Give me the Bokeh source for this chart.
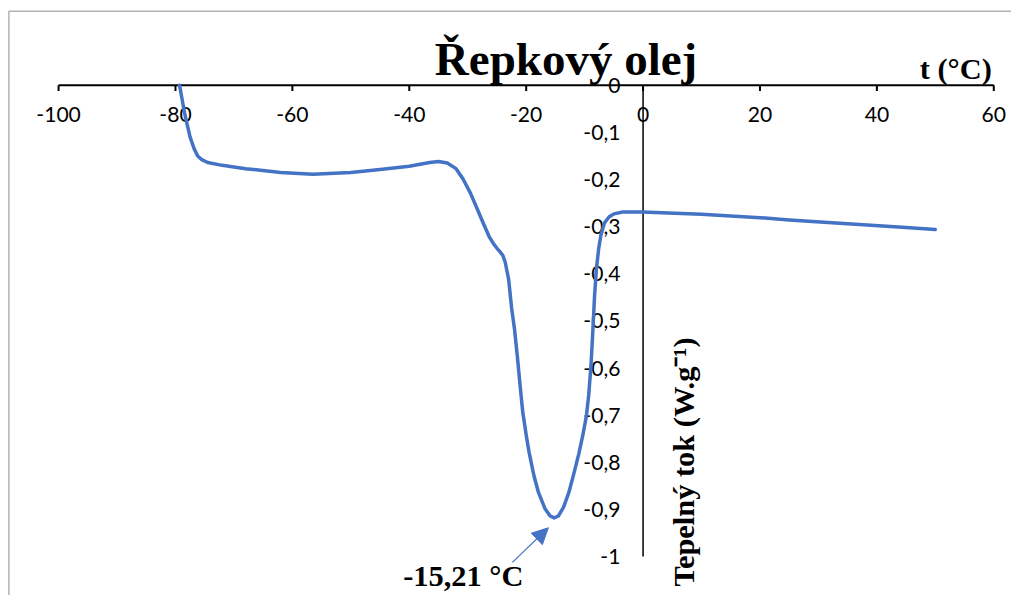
import math
from bokeh.plotting import figure
from bokeh.models import Range1d, Label, Arrow, NormalHead, BoxAnnotation, ColumnDataSource
from bokeh.core.properties import value
from bokeh.embed import file_html
from bokeh.resources import INLINE

# ---------------- data ----------------
temp_c = [-79.3, -78.4, -77.5, -76.8, -76.2, -75.5, -74.5, -72.0, -68.0, -62.0,
          -56.5, -50.0, -45.0, -40.0, -36.5, -35.0, -33.5, -32.0, -30.8, -29.5,
          -28.5, -27.3, -26.3, -25.6, -25.0, -24.5, -24.0, -23.6, -23.0, -22.5,
          -22.0, -21.5, -21.0, -20.6, -20.0, -19.5, -18.7, -17.9, -16.8, -15.9,
          -15.21, -14.5, -13.6, -12.7, -11.8, -11.0, -10.3, -9.7, -9.3, -8.9,
          -8.6, -8.3, -8.0, -7.6, -7.2, -6.6, -5.8, -5.0, -3.5, -0.2,
          10.0, 20.0, 25.0, 35.0, 45.0, 50.0]
heat_flow = [0.0, -0.062, -0.110, -0.135, -0.150, -0.158, -0.164, -0.170, -0.177, -0.185,
             -0.189, -0.185, -0.179, -0.172, -0.164, -0.162, -0.165, -0.177, -0.199, -0.230,
             -0.259, -0.294, -0.322, -0.336, -0.346, -0.353, -0.361, -0.375, -0.412, -0.472,
             -0.517, -0.577, -0.642, -0.692, -0.742, -0.779, -0.827, -0.864, -0.898, -0.914,
             -0.918, -0.914, -0.895, -0.864, -0.822, -0.782, -0.742, -0.702, -0.657, -0.592,
             -0.522, -0.447, -0.392, -0.347, -0.317, -0.292, -0.279, -0.273, -0.269, -0.269,
             -0.274, -0.281, -0.286, -0.294, -0.302, -0.306]

x_ticks = [-100, -80, -60, -40, -20, 0, 20, 40, 60]
x_tick_labels = ["-100", "-80", "-60", "-40", "-20", "0", "20", "40", "60"]
y_ticks = [0, -0.1, -0.2, -0.3, -0.4, -0.5, -0.6, -0.7, -0.8, -0.9, -1.0]
y_tick_labels = ["0", "-0,1", "-0,2", "-0,3", "-0,4", "-0,5", "-0,6", "-0,7", "-0,8", "-0,9", "-1"]

title_text = "Řepkový olej"
x_title = "t (°C)"
y_title = "Tepelný tok (W.g⁻¹)"
peak_text = "-15,21 °C"
peak_x = -15.21
peak_y = -0.918

# ---------------- layout calibration ----------------
# reference image is 1027x611; the figure is scaled to fit the window
REF_W, REF_H = 1027, 611
W, H = 1011, 595
SX, SY = W / REF_W, H / REF_H
FS = (SX + SY) / 2
PX0, PXU = 652.75, 5.9375   # reference px of x=0, px per degree
PY0, PYU = 87.0, 484.0      # reference px of y=0, px per W/g


def dx(rx):
    return (rx - PX0) / PXU


def dy(ry):
    return (PY0 - ry) / PYU


def fpx(size):
    return f"{size * FS:.1f}px"


BL = 0.37  # empirical shift of the alphabetic baseline (in em)

BLUE = "#4472C4"
SERIF = "Liberation Serif"
SANS = "Lato"

p = figure(width=W, height=H, output_backend="svg", toolbar_location=None,
           x_range=Range1d(dx(0), dx(REF_W)), y_range=Range1d(dy(REF_H), dy(0)),
           x_axis_location=None, y_axis_location=None, min_border=0)
p.grid.visible = False
p.outline_line_color = None
p.background_fill_color = "white"
p.border_fill_color = "white"

# chart border (only top and left visible in the cropped image)
p.add_layout(BoxAnnotation(left=dx(8.5), top=dy(11), right=dx(3000), bottom=dy(3000),
                           fill_alpha=0, line_color="black", line_width=1.5))

# x axis (at y = 0)
p.segment(x0=[x_ticks[0]], y0=[0], x1=[x_ticks[-1]], y1=[0], line_color="black", line_width=2)
tick_len = 6 / PYU
p.segment(x0=x_ticks, y0=[0] * len(x_ticks), x1=x_ticks, y1=[-tick_len] * len(x_ticks),
          line_color="black", line_width=2)
p.text(x=x_ticks, y=[0] * len(x_ticks), text=x_tick_labels, text_font=value(SANS),
       text_font_size=fpx(21.5), text_align="center", text_baseline="middle",
       y_offset=30 * SY, text_color="black")

# y axis (at x = 0)
p.segment(x0=[0], y0=[y_ticks[0]], x1=[0], y1=[y_ticks[-1]], line_color="black", line_width=1.5)
p.text(x=[0] * len(y_ticks), y=y_ticks, text=y_tick_labels, text_font=value(SANS),
       text_font_size=fpx(21.5), text_align="right", text_baseline="middle",
       x_offset=-23 * SX, text_color="black")

# series
src = ColumnDataSource(dict(t=temp_c, q=heat_flow))
p.line("t", "q", source=src, line_color=BLUE, line_width=3.5, line_join="round", line_cap="round")

# titles
T1, T2, T3 = 48, 31, 31
p.add_layout(Label(x=dx(574.5), y=dy(78 - BL * T1), text=title_text, text_font=SERIF,
                   text_font_style="bold", text_font_size=fpx(T1), text_align="center",
                   text_baseline="alphabetic", text_color="black"))
p.add_layout(Label(x=dx(1007), y=dy(82 - BL * T2), text=x_title, text_font=SERIF,
                   text_font_style="bold", text_font_size=fpx(T2), text_align="right",
                   text_baseline="alphabetic", text_color="black"))
p.add_layout(Label(x=dx(706 - BL * T3), y=dy(346), text=y_title, text_font=SERIF,
                   text_font_style="bold", text_font_size=fpx(T3), text_align="right",
                   text_baseline="alphabetic", angle=math.pi / 2, text_color="black"))

# peak annotation
p.add_layout(Label(x=dx(409), y=dy(602 - BL * T2), text=peak_text, text_font=SERIF,
                   text_font_style="bold", text_font_size=fpx(T2), text_align="left",
                   text_baseline="alphabetic", text_color="black"))
p.add_layout(Arrow(end=NormalHead(size=16, fill_color=BLUE, line_color=BLUE),
                   x_start=dx(520), y_start=dy(577), x_end=peak_x - 1.0, y_end=peak_y - 0.021,
                   line_color=BLUE, line_width=1.2))

open("out.html", "w").write(file_html(p, INLINE, title="Řepkový olej"))
